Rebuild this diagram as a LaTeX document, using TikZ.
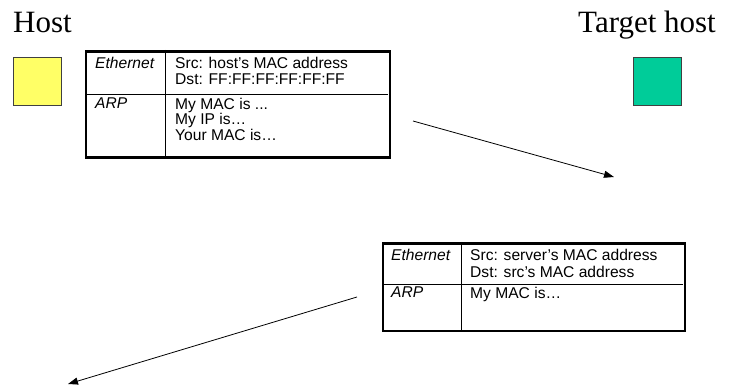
\documentclass[tikz,border=0pt]{standalone}
\usepackage{fontspec}
\setmainfont{Liberation Serif}
\setsansfont{Liberation Sans}
\usetikzlibrary{arrows.meta}

\begin{document}
\begin{tikzpicture}[x=1pt,y=-1pt,
  title/.style={font=\fontsize{31}{31}\selectfont, inner sep=0, anchor=base west},
  hostsq/.style={draw=black!75, line width=0.8pt, minimum width=48pt, minimum height=48pt, inner sep=0, anchor=north west},
  frame/.style={draw, line width=2.8pt, inner sep=0, anchor=north west},
  rule/.style={line width=0.9pt},
  cell/.style={font=\sffamily\fontsize{15.6}{15.5}\selectfont, align=left, inner sep=0, anchor=north west},
  proto/.style={cell, font=\sffamily\itshape\fontsize{15.6}{15.5}\selectfont},
  msg/.style={-{Triangle[length=10pt,width=7pt]}, line width=0.8pt}]

\useasboundingbox (0,0) rectangle (729,385);

% hosts
\node [title] (host) at (13,33) {Host};
\node [title] (target) at (578,33) {Target host};

\node [hostsq, fill={rgb,255:red,255;green,255;blue,102}] (hostbox) at (12.5,57.5) {};
\node [hostsq, fill={rgb,255:red,0;green,204;blue,153}] (targetbox) at (632.5,57.5) {};

% request
\node [frame, minimum width=304pt, minimum height=106pt] (req) at (84.5,50.5) {};
\draw [rule] (165,50) -- (165,157);
\draw [rule] (85,94) -- (388,94);

\node [proto] (eth1) at (95,57) {Ethernet};
\node [cell] (hdr1) at (175,57) {Src: host’s MAC address\\Dst: FF:FF:FF:FF:FF:FF};
\node [proto] (arp1) at (95,97.5) {ARP};
\node [cell] (body1) at (175,97.5) {My MAC is ...\\My IP is…\\Your MAC is…};

% reply
\node [frame, minimum width=302pt, minimum height=87pt] (rep) at (381.5,242.5) {};
\draw [rule] (461,242) -- (461,330);
\draw [rule] (382,284) -- (683,284);

\node [proto] (eth2) at (391,249) {Ethernet};
\node [cell, font=\sffamily\fontsize{15.6}{17}\selectfont] (hdr2) at (470,249) {Src: server’s MAC address\\Dst: src’s MAC address};
\node [proto] (arp2) at (391,287) {ARP};
\node [cell] (body2) at (470,287) {My MAC is…};

% messages
\coordinate (reqfrom) at (413,121);
\coordinate (reqto) at (614,177);
\coordinate (repfrom) at (357,297);
\coordinate (repto) at (68,384);

\draw [msg] (reqfrom) -- (reqto);
\draw [msg] (repfrom) -- (repto);

\end{tikzpicture}
\end{document}
